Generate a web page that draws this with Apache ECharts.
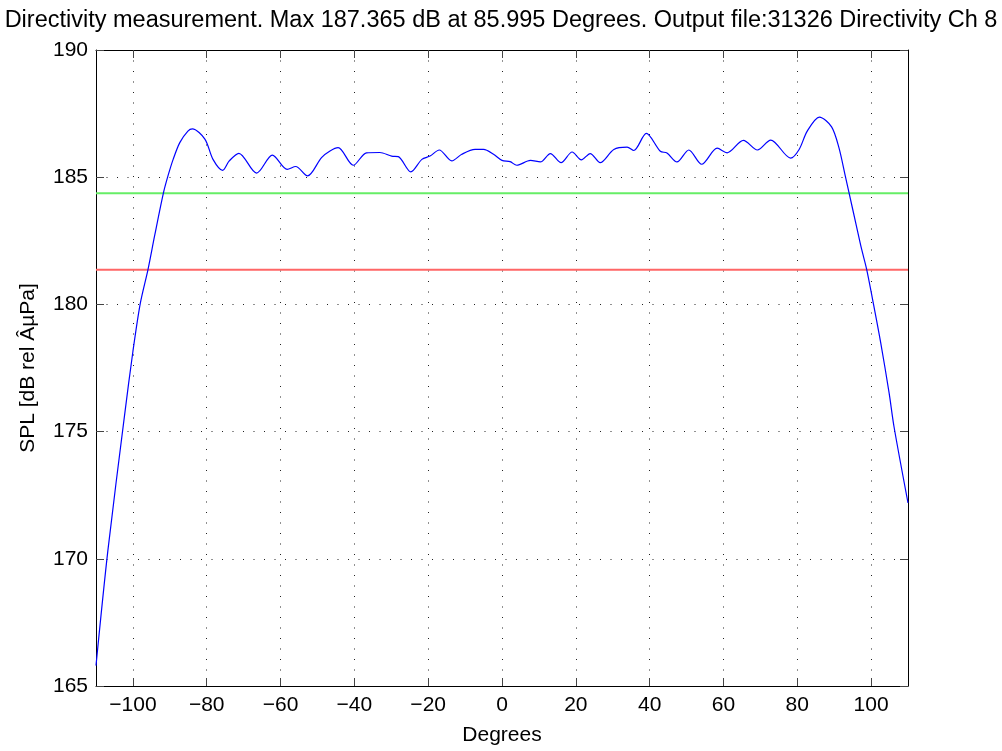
<!DOCTYPE html>
<html>
<head>
<meta charset="utf-8">
<title>Directivity</title>
<script src="https://cdn.jsdelivr.net/npm/echarts@6/dist/echarts.min.js"></script>
<style>
  html, body { margin: 0; padding: 0; background: #fff; }
  #chart { width: 1002px; height: 751px; }
</style>
</head>
<body>
<div id="chart"></div>
<script>
// measured directivity (degrees vs SPL)
const degrees = [
  -110, -106.8, -102.3, -100.0, -98.0, -95.9, -94.1, -91.7, -90.5, -89.1,
  -87.3, -85.1, -83.9, -80.5, -78.3, -75.7, -73.9, -71.3, -66.5, -62.2, -58.2,
  -55.9, -52.7, -48.9, -46.6, -44.4, -40.3, -36.7, -33.1, -29.9, -28.1,
  -24.7, -21.7, -19.5, -17.0, -13.6, -10.9, -7.3, -5.0, -2.3, 0.0,
  2.2, 4.0, 7.7, 10.4, 13.1, 16.0, 19.0, 21.5, 23.9, 26.6,
  30.3, 33.9, 35.7, 39.1, 42.9, 44.7, 47.4, 50.6, 54.1, 58.3,
  61.0, 65.4, 69.2, 72.8, 78.2, 80.5, 82.7, 86.0, 89.3, 91.3,
  93.0, 94.0, 96.0, 97.4, 98.8, 100.4, 102.6, 104.9, 106.2, 110
]
const spl = [
  165.8, 170.3, 175.6, 178.15, 180.04, 181.38, 182.71, 184.40, 185.05, 185.70,
  186.36, 186.81, 186.9, 186.5, 185.7, 185.27, 185.64, 185.94, 185.16, 185.87, 185.31,
  185.42, 185.05, 185.77, 186.03, 186.16, 185.47, 185.96, 185.97, 185.83, 185.81,
  185.21, 185.70, 185.83, 186.07, 185.64, 185.90, 186.09, 186.09, 185.90, 185.66,
  185.61, 185.47, 185.66, 185.60, 185.93, 185.57, 185.99, 185.68, 185.93, 185.57,
  186.09, 186.18, 186.05, 186.72, 186.02, 185.95, 185.60, 186.07, 185.51, 186.14,
  185.96, 186.45, 186.07, 186.46, 185.75, 186.09, 186.81, 187.365, 186.98, 186.15,
  185.05, 184.40, 183.10, 182.19, 181.38, 180.2, 178.5, 176.5, 175.2, 172.2
]
const xRange = [-110, 110]
const xTicks = [-100, -80, -60, -40, -20, 0, 20, 40, 60, 80, 100]
const yRange = [165, 190]
const yStep = 5
const minus3dB = 184.365
const minus6dB = 181.365

const FONT = '"Liberation Sans", Arial, Helvetica, sans-serif'
const chart = echarts.init(document.getElementById('chart'))

const dotted = { show: true, lineStyle: { color: '#222', width: 1, type: [1, 9.5] } }
const boxLine = { show: true, onZero: false, lineStyle: { color: '#000', width: 1 } }
const tickStyle = { show: true, inside: true, length: 8, lineStyle: { color: '#444', width: 1 } }

const option = {
  animation: false,
  backgroundColor: '#fff',
  textStyle: { fontFamily: FONT },
  title: {
    text: 'Directivity measurement. Max 187.365 dB at 85.995 Degrees. Output file:31326 Directivity Ch 8',
    left: 'center',
    top: 4,
    textStyle: { fontFamily: FONT, fontSize: 23.5, fontWeight: 'normal', color: '#000' }
  },
  grid: { left: 96, right: 94, top: 50, bottom: 61 },
  xAxis: [
    {
      type: 'value',
      position: 'bottom',
      min: xRange[0],
      max: xRange[1],
      name: 'Degrees',
      nameLocation: 'middle',
      nameGap: 39,
      nameTextStyle: { fontFamily: FONT, fontSize: 21, color: '#000' },
      axisLine: boxLine,
      axisTick: Object.assign({ customValues: xTicks }, tickStyle),
      axisLabel: {
        customValues: xTicks,
        margin: 9,
        fontFamily: FONT,
        fontSize: 21,
        color: '#000',
        formatter: v => String(v).replace('-', '\u2212')
      },
      splitLine: dotted
    },
    {
      type: 'value',
      position: 'top',
      min: xRange[0],
      max: xRange[1],
      axisLine: boxLine,
      axisTick: Object.assign({ customValues: xTicks }, tickStyle),
      axisLabel: { show: false },
      splitLine: { show: false }
    }
  ],
  yAxis: [
    {
      type: 'value',
      position: 'left',
      min: yRange[0],
      max: yRange[1],
      interval: yStep,
      name: 'SPL [dB rel \u00C2\u00B5Pa]',
      nameLocation: 'middle',
      nameGap: 57,
      nameTextStyle: { fontFamily: FONT, fontSize: 21, color: '#000' },
      axisLine: boxLine,
      axisTick: tickStyle,
      axisLabel: { margin: 8, fontFamily: FONT, fontSize: 21, color: '#000' },
      splitLine: dotted
    },
    {
      type: 'value',
      position: 'right',
      min: yRange[0],
      max: yRange[1],
      interval: yStep,
      axisLine: boxLine,
      axisTick: tickStyle,
      axisLabel: { show: false },
      splitLine: { show: false }
    }
  ],
  series: [
    {
      name: '-3 dB',
      type: 'line',
      data: [[xRange[0], minus3dB], [xRange[1], minus3dB]],
      symbol: 'none',
      lineStyle: { color: '#66ee66', width: 2 },
      silent: true
    },
    {
      name: '-6 dB',
      type: 'line',
      data: [[xRange[0], minus6dB], [xRange[1], minus6dB]],
      symbol: 'none',
      lineStyle: { color: '#ff6666', width: 2 },
      silent: true
    },
    {
      name: 'SPL',
      type: 'line',
      data: degrees.map((d, i) => [d, spl[i]]),
      symbol: 'none',
      smooth: 0.3,
      clip: true,
      lineStyle: { color: '#0000ff', width: 1.2 }
    }
  ]
}
chart.setOption(option)
</script>
</body>
</html>
